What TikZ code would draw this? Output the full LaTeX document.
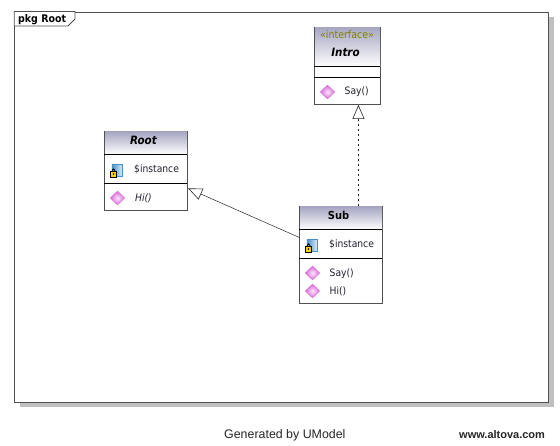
\documentclass[tikz,border=0pt]{standalone}
\usepackage{fontspec}
\setmainfont{DejaVu Sans Condensed}
\newfontfamily\footfont{Liberation Sans}
\usetikzlibrary{arrows.meta,shapes.geometric,calc}
\definecolor{framecol}{HTML}{505050}
\definecolor{shadowcol}{HTML}{C0C0C0}
\definecolor{headtop}{HTML}{A6A6C2}
\definecolor{stereo}{HTML}{808000}
\definecolor{txt}{HTML}{202030}
\definecolor{opouter}{HTML}{D868D8}
\definecolor{opinner}{HTML}{FBE6FB}
\definecolor{attrleft}{HTML}{4A8FC8}
\definecolor{attrright}{HTML}{D8ECF8}
\tikzset{
  x=1pt,y=-1pt,
  classbody/.style={draw=framecol,line width=0.9pt,fill=white,inner sep=0pt,minimum width=83pt,anchor=north west},
  classhead/.style={inner sep=0pt,minimum width=82pt,anchor=north west,top color=headtop,bottom color=white,shading angle=0},
  divider/.style={draw=black,line width=0.9pt},
  member/.style={font=\fontsize{10.2}{12}\selectfont,text=txt,inner sep=0pt,anchor=west},
  classname/.style={font=\fontsize{11}{13}\selectfont\bfseries,inner sep=0pt,text=black},
  opicon/.style={diamond,minimum width=14.5pt,minimum height=14pt,inner sep=0pt,draw=opouter,line width=0.4pt,inner color=opinner,outer color=opouter},
  attricon/.style={minimum width=10.5pt,minimum height=12pt,inner sep=0pt,left color=attrleft,right color=attrright,draw=attrleft,line width=0.4pt},
  lockicon/.style={draw=black,fill=yellow!70!orange,line width=0.9pt,minimum width=6pt,minimum height=6pt,inner sep=0pt},
  realize/.style={draw=black!85,line width=0.5pt,dashed,dash pattern=on 2.5pt off 2.5pt,-{Triangle[open,fill=white,length=14pt,width=12pt,line width=0.6pt]}},
  general/.style={draw=black!85,line width=0.5pt,-{Triangle[open,fill=white,length=14pt,width=12pt,line width=0.6pt]}}
}
\newcommand{\lockat}[2]{%
  \node[attricon] (#1) at (#2) {};
  \node[lockicon] (#1l) at ($(#1.center)+(-3.5,4)$) {};
  \draw[black,line width=0.8pt] ($(#1l.north)+(-1.5,0)$) arc[start angle=180,end angle=0,radius=1.5pt];
  \fill[black] (#1l.center) circle[radius=0.8pt];
}
\begin{document}
\begin{tikzpicture}
\useasboundingbox (0,0) rectangle (560,445);
\fill[white] (0,0) rectangle (560,445);
% frame
\fill[shadowcol] (20,17) rectangle (554,407);
\node[draw=framecol,line width=1pt,fill=white,minimum width=534pt,minimum height=390.5pt,inner sep=0pt,anchor=north west] (frame) at (14.2,11.5) {};
\draw[framecol,line width=0.8pt,fill=white] (frame.north west) -- (75,11.5) -- (75,19) -- (68,26) -- (14.2,26) -- cycle;
\node[font=\fontsize{10.5}{12}\selectfont\bfseries,inner sep=0pt,text=black,anchor=west] (tag) at (18,19.3) {pkg Root};
% Intro
\node[classbody,minimum width=66pt,minimum height=77.5pt] (intro) at (314.3,26.5) {};
\node[classhead,minimum width=65pt,minimum height=39.5pt] (introhead) at (314.8,27) {};
\node[font=\fontsize{10.5}{12}\selectfont,text=stereo,inner sep=0pt] (intros) at (347,35) {«interface»};
\node[classname,font=\fontsize{11.5}{13}\selectfont\bfseries\itshape] (intron) at (345.5,52) {Intro};
\draw[divider] (314.3,66.5) -- (380.3,66.5);
\draw[divider] (314.3,77.2) -- (380.3,77.2);
\node[opicon] (intro1) at (327.5,92) {};
\node[member] (introm) at (344.5,92) {Say()};
% Root
\node[classbody,minimum height=79pt] (root) at (104.3,131) {};
\node[classhead,minimum height=22.8pt] (roothead) at (104.8,131.5) {};
\node[classname,font=\fontsize{11.5}{13}\selectfont\bfseries\itshape] (rootn) at (143.5,140.5) {Root};
\draw[divider] (104.3,154.3) -- (187.3,154.3);
\draw[divider] (104.3,183.7) -- (187.3,183.7);
\lockat{rootlock}{117,170}
\node[member] (roota) at (134,169.5) {\$instance};
\node[opicon] (root1) at (117.5,198) {};
\node[member,font=\fontsize{10.2}{12}\selectfont\itshape] (rootm) at (135,198) {Hi()};
% Sub
\node[classbody,minimum height=97pt] (sub) at (299.3,206) {};
\node[classhead,minimum height=22.8pt] (subhead) at (299.8,206.5) {};
\node[classname] (subn) at (338.5,215.5) {Sub};
\draw[divider] (299.3,229.3) -- (382.3,229.3);
\draw[divider] (299.3,258.7) -- (382.3,258.7);
\lockat{sublock}{312,245}
\node[member] (suba) at (329,244.5) {\$instance};
\node[opicon] (sub1) at (312.5,273) {};
\node[member] (subm1) at (329.5,273.5) {Say()};
\node[opicon] (sub2) at (312.5,291) {};
\node[member] (subm2) at (329.5,291) {Hi()};
% connectors
\draw[realize] ([xshift=17.2pt]sub.north) -- ([xshift=10.7pt]intro.south);
\draw[general] ([yshift=17.5pt]sub.west) -- ([yshift=-17.5pt]root.east);
% footer
\node[font=\footfont\fontsize{12.4}{14}\selectfont,text=black!85,inner sep=0pt,anchor=west] (gen) at (224,435) {Generated by UModel};
\node[font=\footfont\fontsize{11}{13}\selectfont\bfseries,text=black!85,inner sep=0pt,anchor=west] (web) at (459,435) {www.altova.com};
\end{tikzpicture}
\end{document}
